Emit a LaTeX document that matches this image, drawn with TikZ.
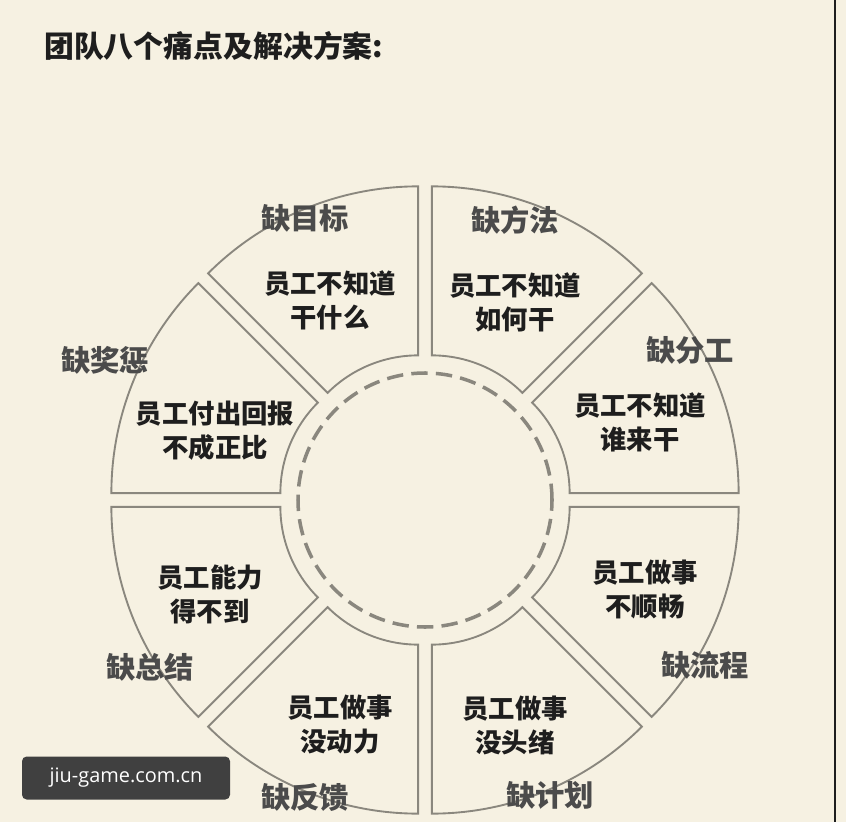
\documentclass[tikz,border=0pt]{standalone}
\usepackage{fontspec}
\setmainfont{Noto Sans CJK SC}
\newfontfamily\wmfont{Open Sans}
\definecolor{paper}{HTML}{F6F1E2}
\definecolor{ringline}{HTML}{8A877E}
\definecolor{ink}{HTML}{1E1E1E}
\begin{document}
\begin{tikzpicture}
  [x=0.03cm,y=-0.03cm,
   sector/.style={draw=ringline,line width=1.6pt,fill=paper},
   tag/.style={font=\bfseries\fontsize{25}{29}\selectfont,text=ink!80},
   note/.style={font=\bfseries\fontsize{22.5}{29}\selectfont,text=ink,align=center}]
  \fill[paper] (0,0) rectangle (846,822);
  \useasboundingbox (0,0) rectangle (846,822);
  \draw[ink,line width=2.5pt] (835,0) -- (835,822);

  \node[font=\bfseries\fontsize{25.5}{30}\selectfont,text=ink,anchor=west] (title) at (40,46) {团队八个痛点及解决方案:};

  % ring of eight sectors
  \coordinate (c) at (425,500);
  \begin{scope}[shift={(c)},y=0.03cm]
  \foreach \k in {0,...,7}{
    \pgfmathsetmacro\a{45*\k}
    \pgfmathsetmacro\b{45*\k+45}
    \pgfmathsetmacro\m{45*\k+22.5}
    \begin{scope}[shift={(\m:18)}]
      \draw[sector] (\a:128) arc[start angle=\a,end angle=\b,radius=128]
        -- (\b:297) arc[start angle=\b,end angle=\a,radius=297] -- cycle;
    \end{scope}
  }
  \draw[ringline,line width=3pt,dash pattern=on 14pt off 7pt] (0,0) circle[radius=127];
  \end{scope}

  \node[tag] (t1) at (305,218) {缺目标};
  \node[note] (n1) at (330,300) {员工不知道\\干什么};
  \node[tag] (t2) at (515,220) {缺方法};
  \node[note] (n2) at (515,302) {员工不知道\\如何干};
  \node[tag] (t3) at (690,350) {缺分工};
  \node[note] (n3) at (640,422) {员工不知道\\谁来干};
  \node[tag] (t4) at (105,360) {缺奖惩};
  \node[note] (n4) at (215,431) {员工付出回报\\不成正比};
  \node[note] (n5) at (210,594) {员工能力\\得不到};
  \node[tag] (t5) at (150,667) {缺总结};
  \node[note] (n6) at (645,590) {员工做事\\不顺畅};
  \node[tag] (t6) at (705,665) {缺流程};
  \node[note] (n7) at (340,725) {员工做事\\没动力};
  \node[tag] (t7) at (305,797) {缺反馈};
  \node[note] (n8) at (515,725) {员工做事\\没头绪};
  \node[tag] (t8) at (550,795) {缺计划};

  % watermark
  \node[fill=ink!85,rounded corners=4pt,minimum width=208*0.03cm,minimum height=43*0.03cm,
        text=white,font=\wmfont\fontsize{17}{20}\selectfont] (wm) at (126,778) {jiu-game.com.cn};
\end{tikzpicture}
\end{document}
